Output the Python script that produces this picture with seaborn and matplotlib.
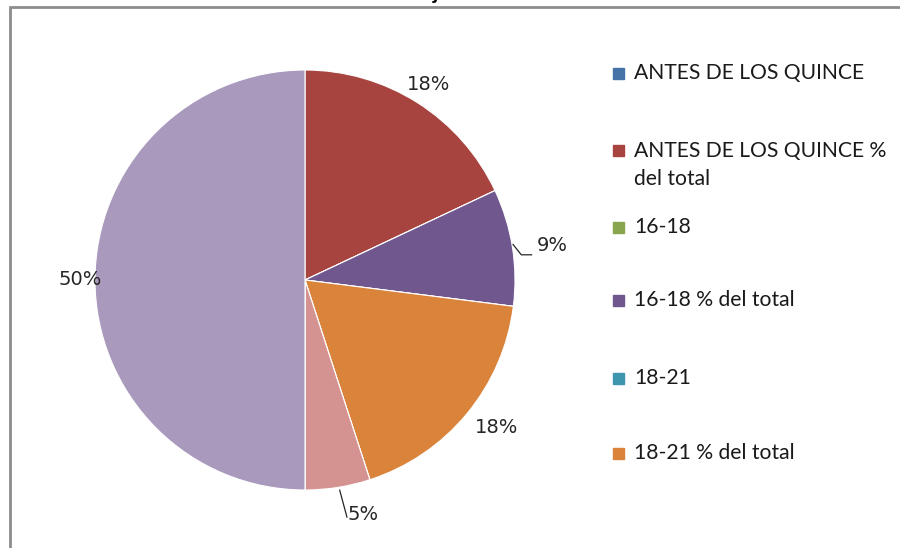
import numpy as np
import matplotlib
matplotlib.use("Agg")
import matplotlib.pyplot as plt
import seaborn as sns
from matplotlib.patches import Rectangle

sns.set_theme(style="white")
plt.rcParams['font.family'] = ['Lato', 'DejaVu Sans']

categories = ["ANTES DE LOS QUINCE", "ANTES DE LOS QUINCE %\ndel total",
              "16-18", "16-18 % del total", "18-21", "18-21 % del total",
              "21 o más", "21 o más % del total", "Nunca", "Nunca % del total"]
values = [0, 18, 0, 9, 0, 18, 0, 5, 0, 50]
colors = ["#4572A7", "#A8443F", "#89A54E", "#70588F", "#3D96AE", "#DA833B",
          "#A4BBDB", "#D49391", "#C4D6A0", "#A99ABD"]
legend_shown = 6

W, H = 900, 548
fig = plt.figure(figsize=(9, 5.48), dpi=100)
fig.patch.set_facecolor("white")

cx, cy, r = 305, 280, 210
ax = fig.add_axes([(cx - r) / W, (H - cy - r) / H, 2 * r / W, 2 * r / H])
wedges, _ = ax.pie(values, colors=colors, startangle=90, counterclock=False,
                   wedgeprops=dict(linewidth=0.8, edgecolor="white"))
ax.set_xlim(-1, 1)
ax.set_ylim(-1, 1)
ax.set_aspect("equal")
ax.axis("off")

# data labels
label_dist = {1: 1.10, 3: 1.19, 5: 1.15, 7: 1.15, 9: 1.07}
angle_off = {5: 2.0, 7: 5.0, 3: -1.0}
for i, (w, v) in enumerate(zip(wedges, values)):
    if v == 0:
        continue
    mid = np.deg2rad((w.theta1 + w.theta2) / 2 + angle_off.get(i, 0))
    d = label_dist.get(i, 1.12)
    x, y = d * np.cos(mid), d * np.sin(mid)
    ax.text(x, y, f"{v}%", ha="center", va="center", fontsize=14,
            family="DejaVu Sans", color="#262626", clip_on=False)
    if i == 3:
        ax.plot([0.99, 1.03, 1.08], [0.17, 0.12, 0.12], color="#262626",
                lw=0.9, clip_on=False)
    elif i == 7:
        ax.plot([0.165, 0.2], [-1.0, -1.13], color="#262626", lw=0.9,
                clip_on=False)

# legend (manual, Excel-like)
rows_y = [73, 165, 227, 300, 378, 453]
for i in range(legend_shown):
    y = rows_y[i]
    lines = categories[i].split("\n")
    ytop = y - (len(lines) - 1) * 15
    fig.patches.append(Rectangle((613 / W, 1 - (ytop + 6) / H), 11 / W, 11 / H,
                                 transform=fig.transFigure, color=colors[i]))
    fig.text(634 / W, 1 - y / H, categories[i], ha="left", va="center",
             fontsize=15.2, color="#1a1a1a", linespacing=1.5)

# chart border (cropped)
fig.patches.append(Rectangle((10 / W, -0.05), 1.0, 1 - 7 / H + 0.05,
                             transform=fig.transFigure, fill=False,
                             edgecolor="#8c8c8c", linewidth=2))

# cropped title
fig.text(455 / W, 1 + 1 / H, "jetas", ha="center", va="baseline",
         fontsize=15, fontweight="bold", color="black")

fig.savefig("out.png", dpi=100)
